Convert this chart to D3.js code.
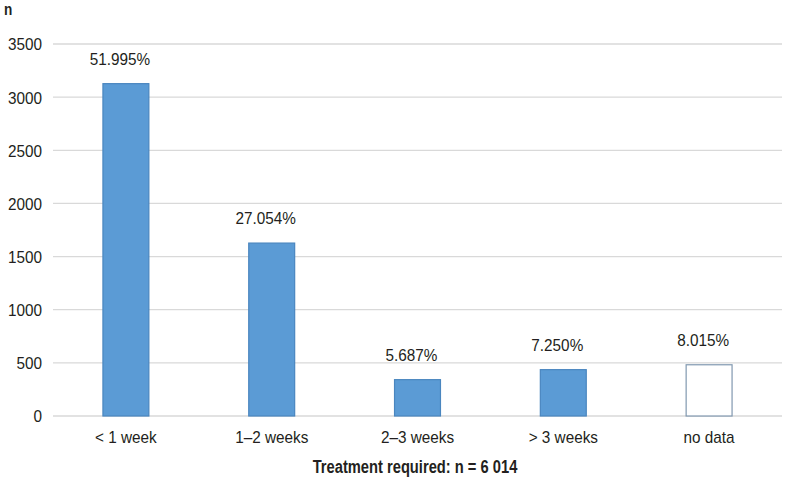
<!DOCTYPE html>
<html><head><meta charset="utf-8">
<script src="https://cdn.jsdelivr.net/npm/d3@7"></script>
<style>body{margin:0;background:#fff}svg{display:block;font-family:"Liberation Sans",Arial,sans-serif}</style>
</head><body>
<svg id="c" width="788" height="480"></svg>
<script>
const categories = ["< 1 week", "1–2 weeks", "2–3 weeks", "> 3 weeks", "no data"];
const counts = [3127, 1627, 342, 436, 482];
const percentLabels = ["51.995%", "27.054%", "5.687%", "7.250%", "8.015%"];
const yTicks = [0, 500, 1000, 1500, 2000, 2500, 3000, 3500];
const xTitle = "Treatment required: n = 6 014";
const yTitle = "n";

const svg = d3.select("#c");
const x = d3.scaleBand().domain(categories).range([53, 782]).paddingInner(0.685).paddingOuter(0.3425);
const y = d3.scaleLinear().domain([0, 3500]).range([416, 44]);

function condense(sel, f) {
  sel.each(function () {
    const len = this.getComputedTextLength();
    d3.select(this).attr("textLength", len * f).attr("lengthAdjust", "spacingAndGlyphs");
  });
}

// gridlines
svg.append("g").selectAll("line").data(yTicks).join("line")
  .attr("x1", 53).attr("x2", 782)
  .attr("y1", d => y(d)).attr("y2", d => y(d))
  .attr("stroke", "#d9d9d9").attr("stroke-width", 1.3);

// y axis labels
const yAxis = d3.axisLeft(y).tickValues(yTicks).tickFormat(d3.format("d")).tickSize(0).tickPadding(0);
const ya = svg.append("g").attr("transform", "translate(42,0)").call(yAxis);
ya.select(".domain").remove();
ya.selectAll("text").attr("font-size", 17).attr("fill", "#231f20")
  .attr("font-family", "Liberation Sans, Arial, sans-serif").attr("dy", "0.35em");
condense(ya.selectAll("text"), 0.9);

// bars
svg.append("g").selectAll("rect").data(counts).join("rect")
  .attr("x", (d, i) => x(categories[i]))
  .attr("width", x.bandwidth())
  .attr("y", d => y(d))
  .attr("height", d => y(0) - y(d))
  .attr("fill", (d, i) => i === 4 ? "#ffffff" : "#5b9bd5")
  .attr("stroke", (d, i) => i === 4 ? "#8098b0" : "#4a86bf")
  .attr("stroke-width", 1.2);

// percent labels
const pl = svg.append("g").selectAll("text").data(counts).join("text")
  .attr("x", (d, i) => x(categories[i]) + x.bandwidth() / 2 - 6)
  .attr("y", d => y(d) - 19)
  .attr("text-anchor", "middle").attr("font-size", 17).attr("fill", "#231f20")
  .text((d, i) => percentLabels[i]);
condense(pl, 0.9);

// x axis labels
const xAxis = d3.axisBottom(x).tickSize(0).tickPadding(0);
const xa = svg.append("g").attr("transform", "translate(0,443)").call(xAxis);
xa.select(".domain").remove();
xa.selectAll("text").attr("font-size", 17).attr("fill", "#231f20")
  .attr("font-family", "Liberation Sans, Arial, sans-serif").attr("dy", "0");
condense(xa.selectAll("text"), 0.9);

// titles
const xt = svg.append("text").attr("x", 415).attr("y", 473).attr("text-anchor", "middle")
  .attr("font-size", 17.5).attr("font-weight", "bold").attr("fill", "#231f20").text(xTitle);
condense(xt, 0.84);
const yt = svg.append("text").attr("x", 4).attr("y", 15)
  .attr("font-size", 16).attr("font-weight", "bold").attr("fill", "#231f20").text(yTitle);
condense(yt, 0.85);
</script>
</body></html>
